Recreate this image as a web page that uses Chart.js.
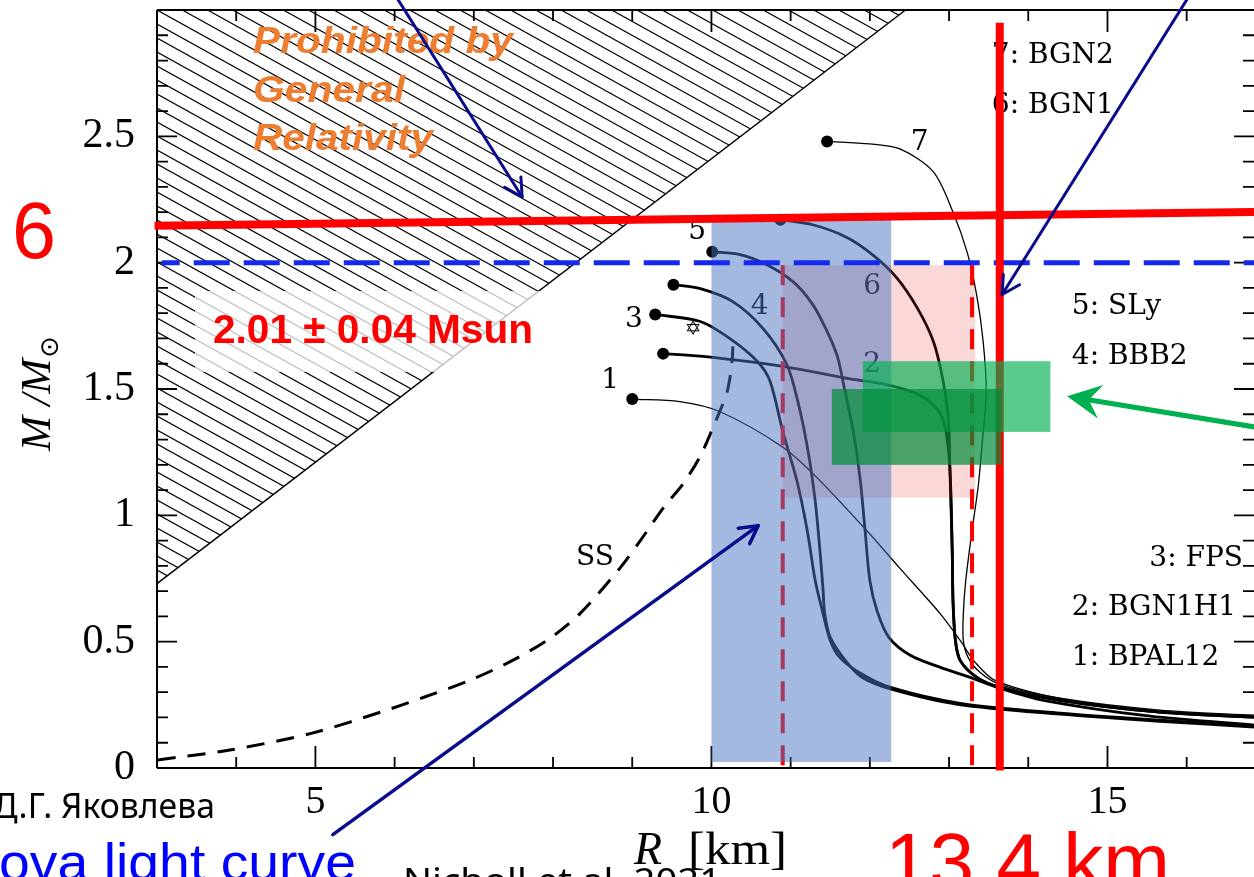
<!DOCTYPE html>
<html>
<head>
<meta charset="utf-8">
<script src="https://cdn.jsdelivr.net/npm/chart.js@4"></script>
<style>html,body{margin:0;padding:0;background:#fff;overflow:hidden}</style>
</head>
<body>
<canvas id="myChart" width="1254" height="877"></canvas>
<script>
var xTicks = [5, 10, 15];
var yTicks = [0, 0.5, 1, 1.5, 2, 2.5];

// mass-radius curves, R [km] and M/Msun
var r1 = [9.00, 9.60, 10.11, 10.90, 11.33, 11.96, 12.38, 12.89, 13.14, 13.33, 13.58, 14.40, 15.66, 16.85];
var m1 = [1.46, 1.45, 1.41, 1.27, 1.15, 0.94, 0.79, 0.61, 0.505, 0.418, 0.347, 0.276, 0.225, 0.205];
var r2 = [9.39, 9.86, 10.90, 11.75, 12.17, 12.60, 12.85, 12.95, 13.01, 13.04, 13.05, 13.08, 13.14, 13.35, 13.64, 14.40, 15.66, 16.85];
var m2 = [1.64, 1.63, 1.59, 1.54, 1.52, 1.48, 1.42, 1.35, 1.19, 0.86, 0.66, 0.505, 0.426, 0.359, 0.32, 0.268, 0.221, 0.201];
var r3 = [9.29, 9.86, 10.23, 10.58, 10.74, 10.90, 11.08, 11.21, 11.31, 11.40, 11.50, 11.62, 11.88, 12.25, 13.14, 14.40, 15.66, 16.85];
var m3 = [1.795, 1.767, 1.70, 1.609, 1.531, 1.333, 1.136, 0.939, 0.742, 0.623, 0.505, 0.438, 0.375, 0.32, 0.256, 0.217, 0.189, 0.166];
var r4 = [9.52, 9.86, 10.27, 10.65, 10.95, 11.09, 11.22, 11.31, 11.37, 11.41, 11.43, 11.50, 11.69, 11.90, 12.27, 13.11, 14.40, 15.66, 16.85];
var m4 = [1.913, 1.897, 1.846, 1.74, 1.598, 1.452, 1.254, 1.057, 0.86, 0.702, 0.611, 0.517, 0.426, 0.359, 0.312, 0.252, 0.213, 0.185, 0.162];
var r5 = [10.01, 10.36, 10.70, 11.03, 11.28, 11.46, 11.59, 11.66, 11.79, 11.88, 11.94, 12.00, 12.09, 12.24, 12.51, 12.89, 13.30, 13.64, 14.19, 15.54, 16.85];
var m5 = [2.043, 2.032, 1.992, 1.925, 1.834, 1.728, 1.629, 1.531, 1.333, 1.136, 0.939, 0.742, 0.623, 0.517, 0.446, 0.398, 0.355, 0.316, 0.268, 0.205, 0.17];
var r6 = [10.87, 11.28, 11.71, 12.04, 12.34, 12.60, 12.80, 12.92, 12.99, 13.01, 13.04, 13.05, 13.08, 13.14, 13.35, 13.64, 14.40, 15.66, 16.85];
var m6 = [2.17, 2.15, 2.10, 2.03, 1.94, 1.82, 1.69, 1.54, 1.385, 1.19, 0.86, 0.66, 0.505, 0.426, 0.359, 0.32, 0.268, 0.221, 0.201];
var r7 = [11.46, 12.00, 12.38, 12.80, 13.05, 13.23, 13.35, 13.43, 13.47, 13.43, 13.37, 13.29, 13.21, 13.18, 13.18, 13.24, 13.39, 13.64, 14.40, 15.66, 16.85];
var m7 = [2.48, 2.47, 2.45, 2.36, 2.20, 2.04, 1.87, 1.69, 1.49, 1.33, 1.12, 0.94, 0.74, 0.61, 0.505, 0.438, 0.379, 0.331, 0.276, 0.229, 0.209];
var rSS = [3.01, 3.92, 4.96, 5.82, 6.37, 6.95, 7.49, 7.96, 8.34, 8.85, 9.10, 9.41, 9.64, 9.86, 10.07, 10.20, 10.26, 10.27];
var mSS = [0.032, 0.071, 0.138, 0.221, 0.28, 0.347, 0.426, 0.513, 0.611, 0.793, 0.899, 1.037, 1.124, 1.235, 1.385, 1.491, 1.609, 1.669];

var curveNames = ['1: BPAL12', '2: BGN1H1', '3: FPS', '4: BBB2', '5: SLy', '6: BGN1', '7: BGN2'];

// overlays, in R [km] and M/Msun
var grLimitR = [3, 12.45], grLimitM = [0.73, 3.0];
var maxMassR = [2.97, 16.85], maxMassM = [2.146, 2.201];
var radiusR = 13.64, radiusM = [-0.01, 2.95];
var obsMass = 2.0;
var blueBandR = [10.0, 12.27], blueBandM = [0.024, 2.19];
var pinkBandR = [10.90, 13.33], pinkBandM = [1.07, 1.99];
var dashR = [10.90, 13.29];
var greenAR = [11.52, 13.66], greenAM = [1.20, 1.50];
var greenBR = [11.91, 14.28], greenBM = [1.33, 1.61];

function pts(r, m) {
  return r.map(function (v, i) { return {x: v, y: m[i]}; });
}
function curve(r, m, w) {
  return {
    data: pts(r, m), showLine: true, borderColor: '#000', borderWidth: w, tension: 0.3,
    pointRadius: function (c) { return c.dataIndex === 0 ? 6 : 0; },
    pointBackgroundColor: '#000', pointBorderWidth: 0, pointHoverRadius: 0
  };
}

function fitText(ctx, text, x, y, w, align) {
  var m = ctx.measureText(text).width;
  ctx.save();
  ctx.translate(x, y);
  ctx.scale(w / m, 1);
  ctx.textAlign = 'left';
  ctx.fillText(text, align === 'right' ? -m : 0, 0);
  ctx.restore();
}

function arrow(ctx, x0, y0, x1, y1, color, w, filled) {
  var a = Math.atan2(y1 - y0, x1 - x0);
  ctx.save();
  ctx.strokeStyle = color; ctx.fillStyle = color; ctx.lineWidth = w; ctx.lineCap = 'round';
  ctx.beginPath();
  ctx.moveTo(x0, y0);
  if (filled) ctx.lineTo(x1 - Math.cos(a) * 20, y1 - Math.sin(a) * 20);
  else ctx.lineTo(x1, y1);
  ctx.stroke();
  if (filled) {
    var L = 34, H = 17;
    ctx.beginPath();
    ctx.moveTo(x1, y1);
    ctx.lineTo(x1 - L * Math.cos(a) + H * Math.sin(a), y1 - L * Math.sin(a) - H * Math.cos(a));
    ctx.lineTo(x1 - 22 * Math.cos(a), y1 - 22 * Math.sin(a));
    ctx.lineTo(x1 - L * Math.cos(a) - H * Math.sin(a), y1 - L * Math.sin(a) + H * Math.cos(a));
    ctx.closePath();
    ctx.fill();
  } else {
    ctx.beginPath();
    [-0.5, 0.5].forEach(function (d) {
      ctx.moveTo(x1, y1);
      ctx.lineTo(x1 - 20 * Math.cos(a + d), y1 - 20 * Math.sin(a + d));
    });
    ctx.stroke();
  }
  ctx.restore();
}

function noPad(s) {
  s.paddingTop = 0; s.paddingBottom = 0; s.paddingLeft = 0; s.paddingRight = 0;
}

var decor = {
  id: 'decor',
  beforeDatasetsDraw: function (chart) {
    var ctx = chart.ctx, a = chart.chartArea, X = chart.scales.x, Y = chart.scales.y;
    function px(v) { return X.getPixelForValue(v); }
    function py(v) { return Y.getPixelForValue(v); }

    // region forbidden by GR, hatched
    ctx.save();
    ctx.beginPath();
    ctx.moveTo(a.left, a.top);
    ctx.lineTo(px(grLimitR[1]), py(grLimitM[1]));
    ctx.lineTo(px(grLimitR[0]), py(grLimitM[0]));
    ctx.closePath();
    ctx.clip();
    ctx.strokeStyle = '#000'; ctx.lineWidth = 1.2;
    var t = Math.tan(29 * Math.PI / 180);
    for (var c = -1400; c < 900; c += 14) {
      ctx.beginPath();
      ctx.moveTo(a.left, a.top + c);
      ctx.lineTo(a.right, a.top + c + (a.right - a.left) * t);
      ctx.stroke();
    }
    ctx.restore();
    ctx.save();
    ctx.strokeStyle = '#000'; ctx.lineWidth = 1.5;
    ctx.beginPath();
    ctx.moveTo(px(grLimitR[0]), py(grLimitM[0]));
    ctx.lineTo(px(grLimitR[1]), py(grLimitM[1]));
    ctx.stroke();
    // white box behind the mass label
    ctx.fillStyle = 'rgba(255,255,255,0.75)';
    ctx.fillRect(195, 291, 350, 81);

    // frame and inward ticks
    ctx.lineWidth = 2;
    ctx.beginPath();
    ctx.moveTo(a.left, a.top); ctx.lineTo(a.right, a.top);
    ctx.moveTo(a.left, a.top); ctx.lineTo(a.left, a.bottom);
    ctx.moveTo(a.left, a.bottom); ctx.lineTo(a.right, a.bottom);
    ctx.stroke();
    ctx.lineWidth = 1.8;
    ctx.beginPath();
    for (var r = 3; r <= 16; r++) {
      var lx = r % 5 === 0 ? 22 : 11, x = px(r);
      ctx.moveTo(x, a.bottom); ctx.lineTo(x, a.bottom - lx);
      ctx.moveTo(x, a.top); ctx.lineTo(x, a.top + lx);
    }
    for (var i = 0; i < 30; i++) {
      var ly = i % 5 === 0 ? 20 : 11, y = py(i / 10);
      ctx.moveTo(a.left, y); ctx.lineTo(a.left + ly, y);
      ctx.moveTo(a.right, y); ctx.lineTo(a.right - ly, y);
    }
    ctx.stroke();
    ctx.restore();
  },
  afterDatasetsDraw: function (chart) {
    var ctx = chart.ctx, a = chart.chartArea, X = chart.scales.x, Y = chart.scales.y;
    function px(v) { return X.getPixelForValue(v); }
    function py(v) { return Y.getPixelForValue(v); }
    function rect(r, m, col) {
      ctx.fillStyle = col;
      ctx.fillRect(px(r[0]), py(m[1]), px(r[1]) - px(r[0]), py(m[0]) - py(m[1]));
    }
    ctx.save();
    // curve numbers
    ctx.fillStyle = '#000';
    ctx.font = '28px "DejaVu Serif"';
    ctx.textAlign = 'center'; ctx.textBaseline = 'middle';
    [['7', 12.63, 2.473], ['6', 12.03, 1.905], ['5', 9.82, 2.122], ['4', 10.61, 1.826],
     ['3', 9.02, 1.775], ['2', 12.03, 1.598], ['1', 8.72, 1.531], ['SS', 8.53, 0.832]].forEach(function (l) {
      ctx.fillText(l[0], px(l[1]), py(l[2]));
    });
    ctx.font = '20px "DejaVu Sans"';
    ctx.fillText('\u2721', px(9.77), py(1.736));
    // EOS names
    ctx.font = '28px "DejaVu Serif"';
    ctx.textAlign = 'left';
    ctx.fillText(curveNames[6], px(13.54), py(2.82));
    ctx.fillText(curveNames[5], px(13.54), py(2.623));
    ctx.fillText(curveNames[4], px(14.55), py(1.826));
    ctx.fillText(curveNames[3], px(14.55), py(1.629));
    ctx.fillText(curveNames[1], px(14.55), py(0.635));
    ctx.fillText(curveNames[0], px(14.55), py(0.438));
    ctx.textAlign = 'right';
    ctx.fillText(curveNames[2], px(16.71), py(0.828));

    // radius bands
    rect(pinkBandR, pinkBandM, 'rgba(225,40,40,0.18)');
    ctx.lineWidth = 4; ctx.strokeStyle = '#ff0000';
    ctx.setLineDash([20, 12]);
    ctx.beginPath();
    dashR.forEach(function (r) {
      ctx.moveTo(px(r), py(pinkBandM[1])); ctx.lineTo(px(r), py(0));
    });
    ctx.stroke();
    rect(blueBandR, blueBandM, 'rgba(73,115,193,0.5)');
    // observed max mass
    ctx.strokeStyle = 'rgb(20,40,240)'; ctx.lineWidth = 5;
    ctx.setLineDash([36, 14]); ctx.lineDashOffset = 18;
    ctx.beginPath();
    ctx.moveTo(px(3.06), py(obsMass)); ctx.lineTo(a.right, py(obsMass));
    ctx.stroke();
    ctx.setLineDash([]); ctx.lineDashOffset = 0;
    // radius 13.4 km
    ctx.strokeStyle = '#ff0000'; ctx.lineWidth = 8;
    ctx.beginPath();
    ctx.moveTo(px(radiusR), py(radiusM[0])); ctx.lineTo(px(radiusR), py(radiusM[1]));
    ctx.stroke();
    rect(greenBR, greenBM, 'rgba(0,176,80,0.65)');
    rect(greenAR, greenAM, 'rgba(0,140,55,0.7)');
    // max mass limit
    ctx.lineWidth = 8;
    ctx.beginPath();
    ctx.moveTo(px(maxMassR[0]), py(maxMassM[0])); ctx.lineTo(px(maxMassR[1]), py(maxMassM[1]));
    ctx.stroke();

    // annotations
    ctx.textAlign = 'left'; ctx.textBaseline = 'alphabetic';
    ctx.fillStyle = '#ff0000';
    ctx.font = 'bold 40px "Liberation Sans"';
    fitText(ctx, '2.01 \u00b1 0.04 Msun', 213, 343, 320);
    ctx.fillStyle = '#ED7D31';
    ctx.font = 'italic bold 36px "Liberation Sans"';
    fitText(ctx, 'Prohibited by', 253, 53, 260);
    fitText(ctx, 'General', 253, 102, 152);
    fitText(ctx, 'Relativity', 253, 150, 180);

    arrow(ctx, px(6.005), py(3.06), px(7.61), py(2.26), '#0a0a8c', 3, false);
    arrow(ctx, px(16.04), py(3.06), px(13.67), py(1.874), '#0a0a8c', 3, false);
    arrow(ctx, px(5.22), py(-0.264), px(10.59), py(0.959), '#0a0a8c', 3.5, false);
    arrow(ctx, px(16.95), py(1.345), px(14.49), py(1.471), '#00B050', 5, true);
    ctx.restore();
  },
  afterDraw: function (chart) {
    var ctx = chart.ctx;
    ctx.save();
    ctx.textBaseline = 'alphabetic';
    ctx.fillStyle = '#ff0000';
    ctx.font = '80px "Liberation Sans"';
    fitText(ctx, '6', 12, 258, 44);
    fitText(ctx, '13.4 km', 885, 889, 285);
    ctx.fillStyle = '#0000ff';
    ctx.font = '52px "Liberation Sans"';
    fitText(ctx, 'Kilonova light curve', 356, 880, 480, 'right');
    ctx.fillStyle = '#000';
    ctx.font = '34px "Noto Sans"';
    fitText(ctx, '\u0414.\u0413. \u042f\u043a\u043e\u0432\u043b\u0435\u0432\u0430', 215, 818, 222, 'right');
    fitText(ctx, 'Nicholl et al. 2021', 403, 893, 318);

    // axis titles
    ctx.font = 'italic 46px "Liberation Serif"';
    ctx.fillText('R', 634, 864);
    ctx.font = '46px "Liberation Serif"';
    fitText(ctx, '[km]', 688, 864, 99);

    ctx.translate(50, 394);
    ctx.rotate(-Math.PI / 2);
    ctx.font = 'italic 42px "Liberation Serif"';
    var s1 = 'M /M', w1 = ctx.measureText(s1).width;
    ctx.font = '26px "DejaVu Sans"';
    var w2 = ctx.measureText('\u2299').width;
    var sx = -(w1 + w2) / 2;
    ctx.font = 'italic 42px "Liberation Serif"';
    ctx.fillText(s1, sx, 0);
    ctx.font = '26px "DejaVu Sans"';
    ctx.fillText('\u2299', sx + w1 + 1, 8);
    ctx.restore();
  }
};

new Chart('myChart', {
  type: 'scatter',
  data: {
    datasets: [
      curve(r1, m1, 1.3), curve(r2, m2, 2.8), curve(r3, m3, 2.8), curve(r4, m4, 2.8),
      curve(r5, m5, 2.8), curve(r6, m6, 2.8), curve(r7, m7, 1.3),
      {data: pts(rSS, mSS), showLine: true, borderColor: '#000', borderWidth: 3, borderDash: [18, 12],
       tension: 0.3, pointRadius: 0}
    ]
  },
  options: {
    responsive: false,
    animation: false,
    devicePixelRatio: 1,
    layout: {autoPadding: false, padding: {top: 10, right: 0, left: 0, bottom: 0}},
    plugins: {legend: {display: false}, tooltip: {enabled: false}},
    scales: {
      x: {
        type: 'linear', min: 3, max: 16.85,
        grid: {display: false, drawTicks: false}, border: {display: false},
        afterBuildTicks: function (s) { s.ticks = xTicks.map(function (v) { return {value: v}; }); },
        afterFit: function (s) { s.height = 109; noPad(s); },
        ticks: {color: '#000', autoSkip: false, maxRotation: 0, padding: 10,
                font: {family: 'Liberation Serif', size: 40},
                callback: function (v) { return String(v); }}
      },
      y: {
        min: 0, max: 3,
        grid: {display: false, drawTicks: false}, border: {display: false},
        afterBuildTicks: function (s) { s.ticks = yTicks.map(function (v) { return {value: v}; }); },
        afterFit: function (s) { s.width = 157; noPad(s); },
        ticks: {color: '#000', autoSkip: false, padding: 22,
                font: {family: 'Liberation Serif', size: 42},
                callback: function (v) { return String(v); }}
      }
    }
  },
  plugins: [decor]
});
</script>
</body>
</html>
